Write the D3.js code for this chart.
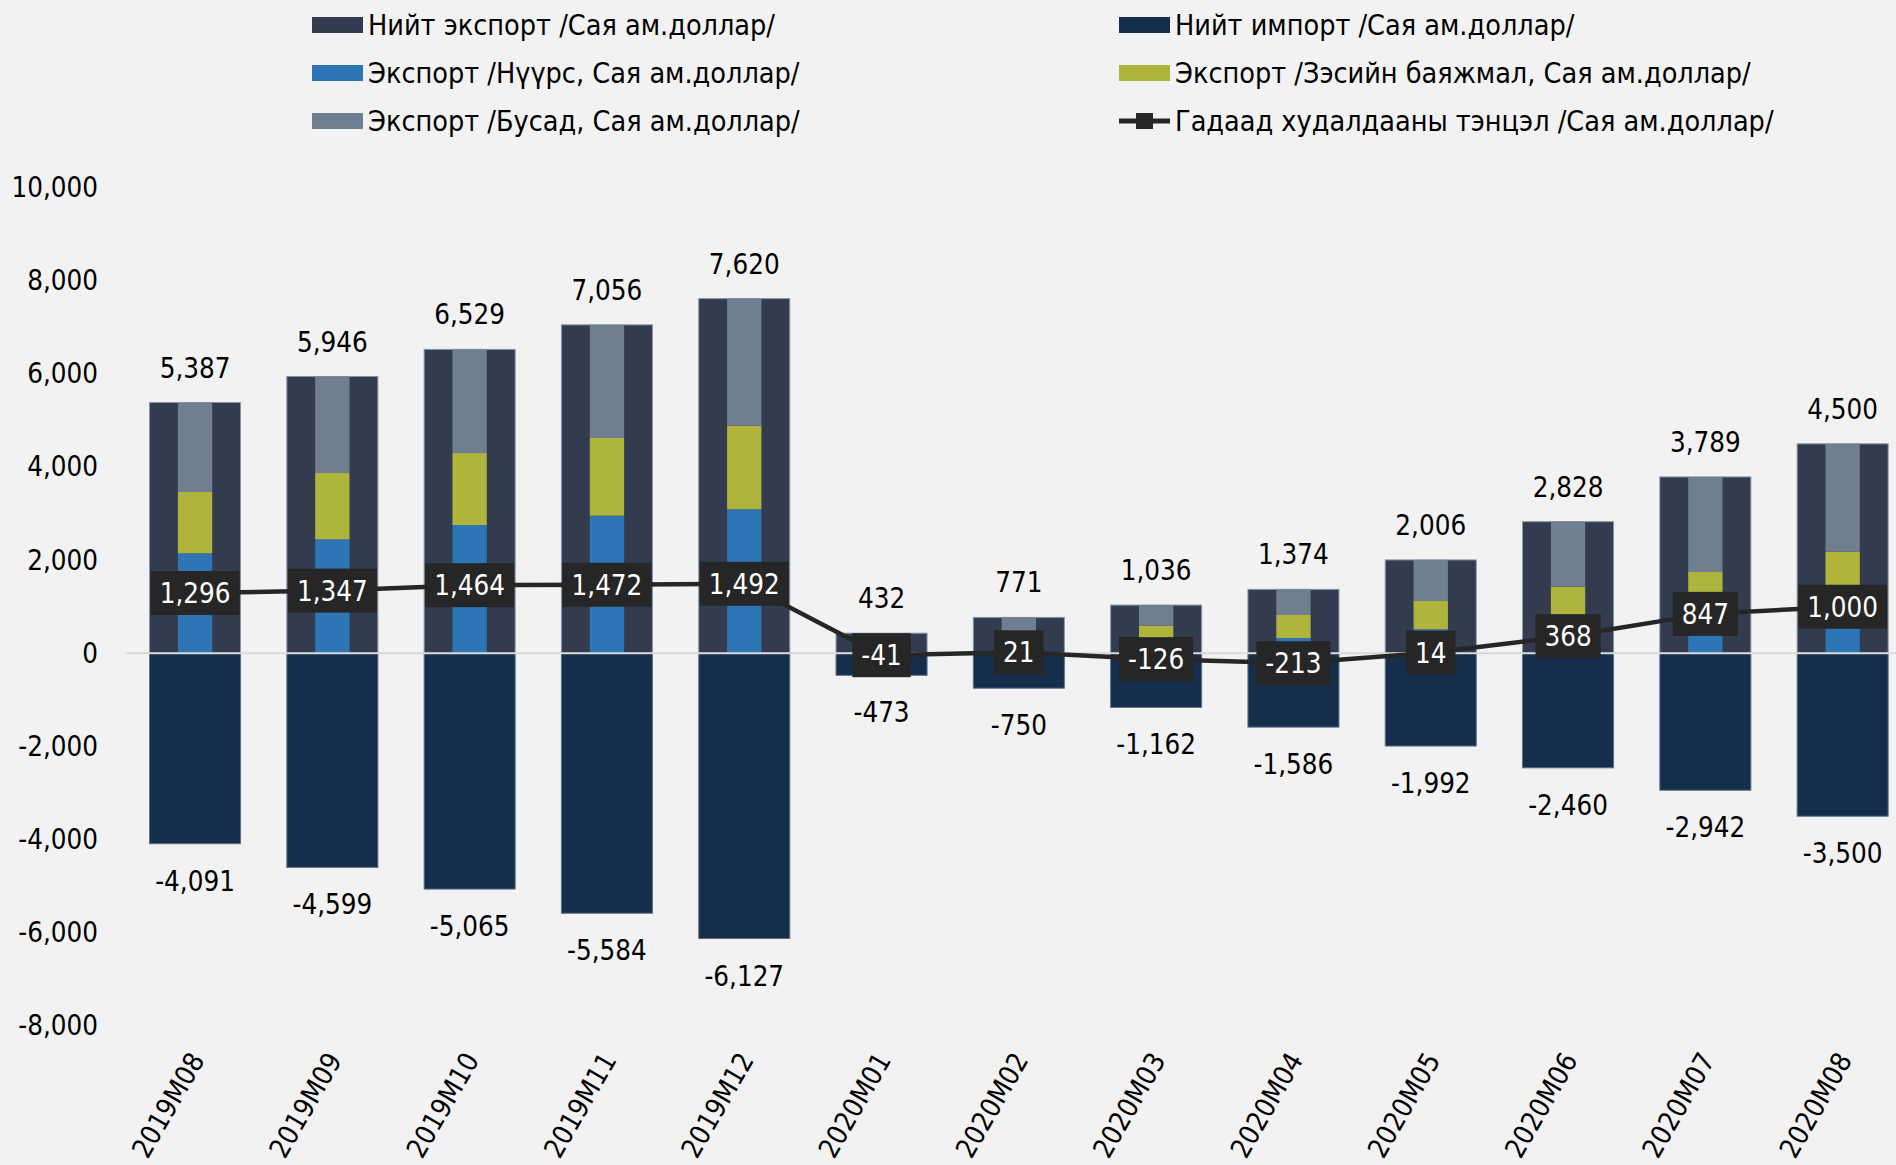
<!DOCTYPE html>
<html>
<head>
<meta charset="utf-8">
<script src="https://cdn.jsdelivr.net/npm/d3@7"></script>
<style>
  body { margin: 0; background: #f2f2f2; }
  svg text { font-family: "DejaVu Sans Condensed", "DejaVu Sans", sans-serif; font-stretch: condensed; }
</style>
</head>
<body>
<div id="app"></div>
<script>
// data
let categories = ["2019M08", "2019M09", "2019M10", "2019M11", "2019M12", "2020M01", "2020M02",
    "2020M03", "2020M04", "2020M05", "2020M06", "2020M07", "2020M08"];
let totalExport = [5387, 5946, 6529, 7056, 7620, 432, 771, 1036, 1374, 2006, 2828, 3789, 4500];
let totalImport = [-4091, -4599, -5065, -5584, -6127, -473, -750, -1162, -1586, -1992, -2460, -2942, -3500];
let coalExport = [2148, 2449, 2756, 2956, 3093, 200, 270, 300, 329, 516, 701, 896, 1212];
let copperExport = [1317, 1424, 1546, 1669, 1796, 90, 130, 293, 494, 608, 730, 850, 970];
let otherExport = [1922, 2073, 2227, 2431, 2731, 142, 371, 443, 551, 882, 1397, 2043, 2318];
let balance = [1296, 1347, 1464, 1472, 1492, -41, 21, -126, -213, 14, 368, 847, 1000];
let yTicks = [-8000, -6000, -4000, -2000, 0, 2000, 4000, 6000, 8000, 10000];

let legendLeft = ["Нийт экспорт /Сая ам.доллар/", "Экспорт /Нүүрс, Сая ам.доллар/", "Экспорт /Бусад, Сая ам.доллар/"];
let legendRight = ["Нийт импорт /Сая ам.доллар/", "Экспорт /Зэсийн баяжмал, Сая ам.доллар/", "Гадаад худалдааны тэнцэл /Сая ам.доллар/"];

let colors = {
    total: "#323c4e",
    imp: "#142e4c",
    coal: "#2e75b6",
    copper: "#afb43d",
    other: "#6f7f8f",
    line: "#262626"
};

let W = 1896, H = 1165;
let fontSize = 27.5;
let legendFont = 28.5;

// plain hyphen for negatives, like the original
let fmt = d3.formatLocale({ decimal: ".", thousands: ",", grouping: [3], currency: ["", ""], minus: "-" }).format(",");

let svg = d3.select("#app")
  .append("svg")
    .attr("width", W)
    .attr("height", H)
    .style("background", "#f2f2f2");

// scales
let x = d3.scaleBand()
    .domain(categories)
    .range([126.4, 1911.3])
    .paddingInner(0)
    .paddingOuter(0);

let y = d3.scaleLinear()
    .domain([-8000, 10000])
    .range([1025.7, 187.8]);

let outerW = x.bandwidth() * 0.663;
let innerW = x.bandwidth() * 0.25;

let rows = categories.map((c, i) => ({
    cat: c, total: totalExport[i], imp: totalImport[i],
    coal: coalExport[i], copper: copperExport[i], other: otherExport[i], bal: balance[i]
}));

// y axis labels
let yAxis = d3.axisLeft(y).tickValues(yTicks).tickFormat(fmt).tickSize(0).tickPadding(0);
let yg = svg.append("g")
    .attr("transform", "translate(98,0)")
    .call(yAxis);
yg.select(".domain").remove();
yg.selectAll("text")
    .attr("font-size", fontSize)
    .attr("fill", "#000")
    .style("font-family", null);

// total export bars
svg.append("g").selectAll("rect")
    .data(rows)
    .enter()
    .append("rect")
        .attr("x", d => x(d.cat) + (x.bandwidth() - outerW) / 2)
        .attr("y", d => y(d.total))
        .attr("width", outerW)
        .attr("height", d => y(0) - y(d.total))
        .attr("fill", colors.total)
        .attr("stroke", "#8a97a8")
        .attr("stroke-width", 1);

// total import bars
svg.append("g").selectAll("rect")
    .data(rows)
    .enter()
    .append("rect")
        .attr("x", d => x(d.cat) + (x.bandwidth() - outerW) / 2)
        .attr("y", y(0))
        .attr("width", outerW)
        .attr("height", d => y(d.imp) - y(0))
        .attr("fill", colors.imp)
        .attr("stroke", "#5d6f86")
        .attr("stroke-width", 1);

// stacked export components
let stack = d3.stack().keys(["coal", "copper", "other"]);
let layers = stack(rows);
svg.append("g").selectAll("g")
    .data(layers)
    .enter()
    .append("g")
        .attr("fill", d => colors[d.key])
    .selectAll("rect")
    .data(d => d)
    .enter()
    .append("rect")
        .attr("x", d => x(d.data.cat) + (x.bandwidth() - innerW) / 2)
        .attr("y", d => y(d[1]))
        .attr("width", innerW)
        .attr("height", d => y(d[0]) - y(d[1]));

// zero line
svg.append("line")
    .attr("x1", x.range()[0])
    .attr("x2", W)
    .attr("y1", y(0))
    .attr("y2", y(0))
    .attr("stroke", "#d9d9d9")
    .attr("stroke-width", 2);

// export labels
svg.append("g").selectAll("text")
    .data(rows)
    .enter()
    .append("text")
        .attr("x", d => x(d.cat) + x.bandwidth() / 2)
        .attr("y", d => y(d.total) - 25)
        .attr("text-anchor", "middle")
        .attr("font-size", fontSize)
        .attr("fill", "#000")
        .text(d => fmt(d.total));

// import labels
svg.append("g").selectAll("text")
    .data(rows)
    .enter()
    .append("text")
        .attr("x", d => x(d.cat) + x.bandwidth() / 2)
        .attr("y", d => y(d.imp) + 47)
        .attr("text-anchor", "middle")
        .attr("font-size", fontSize)
        .attr("fill", "#000")
        .text(d => fmt(d.imp));

// balance line
let line = d3.line()
    .x(d => x(d.cat) + x.bandwidth() / 2)
    .y(d => y(d.bal));

svg.append("path")
    .datum(rows)
    .attr("d", line)
    .attr("fill", "none")
    .attr("stroke", colors.line)
    .attr("stroke-width", 4.5);

// balance labels in dark boxes
let balG = svg.append("g").selectAll("g")
    .data(rows)
    .enter()
    .append("g")
        .attr("transform", d => "translate(" + (x(d.cat) + x.bandwidth() / 2) + "," + y(d.bal) + ")");

balG.append("text")
    .attr("text-anchor", "middle")
    .attr("dy", "0.36em")
    .attr("font-size", fontSize)
    .attr("fill", "#fff")
    .text(d => fmt(d.bal));

balG.each(function() {
    let g = d3.select(this);
    let bb = g.select("text").node().getBBox();
    g.insert("rect", "text")
        .attr("x", -bb.width / 2 - 9)
        .attr("y", -22)
        .attr("width", bb.width + 18)
        .attr("height", 44)
        .attr("fill", colors.line);
});

// x axis labels
svg.append("g").selectAll("text")
    .data(categories)
    .enter()
    .append("text")
        .attr("transform", d => "translate(" + (x(d) + x.bandwidth() / 2 + 2) + ",1055) rotate(-60)")
        .attr("text-anchor", "end")
        .attr("dy", "0.35em")
        .attr("font-size", fontSize)
        .attr("fill", "#000")
        .text(d => d);

// legend
let legend = svg.append("g");
let rowY = [25, 73, 121];

let leftItems = [
    { label: legendLeft[0], color: colors.total },
    { label: legendLeft[1], color: colors.coal },
    { label: legendLeft[2], color: colors.other }
];
let rightItems = [
    { label: legendRight[0], color: colors.imp },
    { label: legendRight[1], color: colors.copper },
    { label: legendRight[2], color: null }
];

function drawLegend(items, x0) {
    items.forEach((it, i) => {
        let g = legend.append("g").attr("transform", "translate(" + x0 + "," + rowY[i] + ")");
        if (it.color) {
            g.append("rect")
                .attr("x", 0).attr("y", -8)
                .attr("width", 51).attr("height", 16)
                .attr("fill", it.color);
        } else {
            g.append("line")
                .attr("x1", 0).attr("x2", 51)
                .attr("stroke", colors.line)
                .attr("stroke-width", 5);
            g.append("rect")
                .attr("x", 17).attr("y", -8)
                .attr("width", 17).attr("height", 16)
                .attr("fill", colors.line);
        }
        g.append("text")
            .attr("x", 56)
            .attr("dy", "0.36em")
            .attr("font-size", legendFont)
            .attr("fill", "#000")
            .text(it.label);
    });
}
drawLegend(leftItems, 312);
drawLegend(rightItems, 1119);
</script>
</body>
</html>
